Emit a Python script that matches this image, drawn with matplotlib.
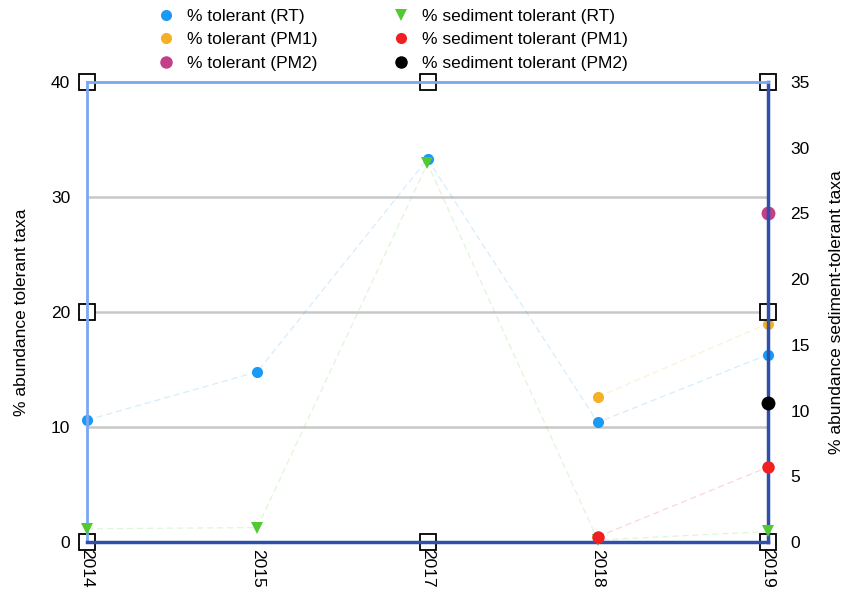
import matplotlib
matplotlib.use("Agg")
import matplotlib.pyplot as plt
from matplotlib.lines import Line2D

plt.rcParams['font.family'] = ['Liberation Sans', 'DejaVu Sans']

years = ["2014", "2015", "2017", "2018", "2019"]
tol_rt = [10.6, 14.8, 33.3, 10.4, 16.3]
tol_pm1 = [None, None, None, 12.6, 19.0]
tol_pm2 = [None, None, None, None, 28.6]
sed_rt = [1.0, 1.1, 28.8, 0.15, 0.8]
sed_pm1 = [None, None, None, 0.4, 5.7]
sed_pm2 = [None, None, None, None, 10.6]

c_blue = "#1a9af5"
c_orange = "#f5b023"
c_purple = "#c2408a"
c_green = "#52c832"
c_red = "#f02020"
c_black = "#000000"

fig = plt.figure(figsize=(8.49, 6.0), dpi=100)
ax = fig.add_axes([87/849, 1-542/600, (768-87)/849, 460/600])
ax2 = ax.twinx()

x = list(range(len(years)))

def pts(vals):
    xs = [i for i, v in zip(x, vals) if v is not None]
    ys = [v for v in vals if v is not None]
    return xs, ys

def draw(a, vals, color, marker, ms):
    xs, ys = pts(vals)
    a.plot(xs, ys, color=color, lw=0.9, ls=(0, (5, 3)), alpha=0.18, zorder=2, clip_on=False)
    a.plot(xs, ys, ls='none', marker=marker, ms=ms, color=color, zorder=5, clip_on=False,
           markeredgewidth=0)

for g in [10, 20, 30]:
    ax.axhline(g, color="#c8c8c8", lw=1.8, zorder=1)

draw(ax, tol_rt, c_blue, 'o', 8)
draw(ax, tol_pm1, c_orange, 'o', 8)
draw(ax, tol_pm2, c_purple, 'o', 10)
draw(ax2, sed_rt, c_green, 'v', 9)
draw(ax2, sed_pm1, c_red, 'o', 9)
draw(ax2, sed_pm2, c_black, 'o', 10)

ax.set_xlim(0, 4)
ax.set_ylim(0, 40)
ax2.set_ylim(0, 35)
ax.set_yticks([0, 10, 20, 30, 40])
ax2.set_yticks([0, 5, 10, 15, 20, 25, 30, 35])
ax.set_xticks(x)
ax.set_xticklabels(years, rotation=-90, fontsize=12.5)
ax.tick_params(axis='y', length=0, labelsize=12.5, pad=12)
ax2.tick_params(axis='y', length=0, labelsize=12.5, pad=16, colors="#000000")
ax.tick_params(axis='x', length=0, pad=5)

light = "#7aa8f2"
dark = "#2f4fa8"
for a in (ax, ax2):
    for s in a.spines.values():
        s.set_visible(False)
for side, col, w in [('left', light, 2), ('top', light, 2), ('bottom', dark, 2.5), ('right', dark, 2.5)]:
    ax2.spines[side].set_visible(True)
    ax2.spines[side].set_color(col)
    ax2.spines[side].set_linewidth(w)
ax2.set_zorder(ax.get_zorder() + 1)
ax.patch.set_visible(False)

sq_x = [0, 2, 4, 0, 4, 0, 2, 4]
sq_y = [40, 40, 40, 20, 20, 0, 0, 0]
ax.plot(sq_x, sq_y, ls='none', marker='s', ms=12, mfc='white', mec='black', mew=1.3,
        clip_on=False, zorder=10)

ax.set_ylabel("% abundance tolerant taxa", fontsize=12.5, labelpad=16)
ax2.set_ylabel("% abundance sediment-tolerant taxa", fontsize=12.5, labelpad=14)

handles = [
    Line2D([], [], ls='none', marker='o', ms=8, color=c_blue, mew=0, label="% tolerant (RT)"),
    Line2D([], [], ls='none', marker='o', ms=8, color=c_orange, mew=0, label="% tolerant (PM1)"),
    Line2D([], [], ls='none', marker='o', ms=9, color=c_purple, mew=0, label="% tolerant (PM2)"),
    Line2D([], [], ls='none', marker='v', ms=9, color=c_green, mew=0, label="% sediment tolerant (RT)"),
    Line2D([], [], ls='none', marker='o', ms=8, color=c_red, mew=0, label="% sediment tolerant (PM1)"),
    Line2D([], [], ls='none', marker='o', ms=9, color=c_black, mew=0, label="% sediment tolerant (PM2)"),
]
fig.legend(handles=handles, ncol=2, loc='upper left', bbox_to_anchor=(140/849, 1.012),
           frameon=False, fontsize=12.5, handletextpad=0.6, columnspacing=4.2,
           labelspacing=0.5, handlelength=1.2)

fig.savefig("out.png", dpi=100)
